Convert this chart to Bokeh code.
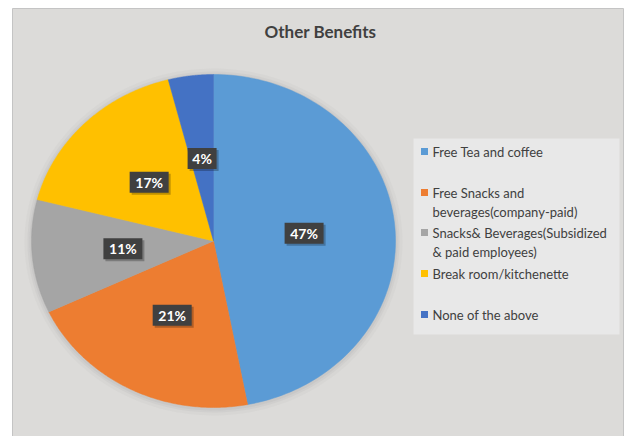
import numpy as np
from bokeh.plotting import figure
from bokeh.models import Range1d, ColumnDataSource
from bokeh.core.properties import value
from bokeh.embed import file_html
from bokeh.resources import INLINE

# ---- data ----
categories = [
    "Free Tea and coffee",
    "Free Snacks and\nbeverages(company-paid)",
    "Snacks& Beverages(Subsidized\n& paid  employees)",
    "Break room/kitchenette",
    "None of the above",
]
shares = [47, 21, 11, 17, 4]
labels = ["47%", "21%", "11%", "17%", "4%"]
colors = ["#5B9BD5", "#ED7D31", "#A5A5A5", "#FFC000", "#4472C4"]
title_text = "Other Benefits"

W, H = 629, 436
FONT = "Lato"

def Y(py):
    return H - py

p = figure(width=W, height=H, x_range=Range1d(0, W), y_range=Range1d(0, H),
           output_backend="svg", toolbar_location=None, min_border=0)
p.axis.visible = False
p.grid.visible = False
p.outline_line_color = None
p.background_fill_color = "white"
p.border_fill_color = "white"

# chart area
p.quad(left=[12], right=[623], top=[Y(8)], bottom=[-5],
       fill_color="#dcdbd9", line_color="#c4c4c4", line_width=1)

# title
p.text(x=[320], y=[Y(31)], text=[title_text], text_font=value(FONT),
       text_font_style="bold", text_font_size="17px", text_color="#404040",
       text_align="center", text_baseline="middle")

# pie (drawn as ellipse like the stretched reference)
cx, cy, rx, ry = 213, Y(240.5), 182, 166.5
total = float(sum(shares))
fr = np.array(shares) / total
starts = np.pi / 2 - 2 * np.pi * np.concatenate([[0], np.cumsum(fr)[:-1]])
ends = starts - 2 * np.pi * fr

# soft shadow
for k, a in [(7, 0.05), (4, 0.07), (2, 0.09)]:
    t = np.linspace(0, 2 * np.pi, 200)
    p.patch(cx + (rx + k) * np.cos(t), cy + (ry + k) * np.sin(t) - 1,
            fill_color="#808080", fill_alpha=a, line_color=None)

xs, ys = [], []
for s, e in zip(starts, ends):
    t = np.linspace(s, e, 120)
    xs.append(list(np.concatenate([[cx], cx + rx * np.cos(t)])))
    ys.append(list(np.concatenate([[cy], cy + ry * np.sin(t)])))
p.patches(xs=xs, ys=ys, fill_color=colors, line_color=colors, line_width=0.5)

# data labels
mids = (starts + ends) / 2
lx = cx + 0.5 * rx * np.cos(mids)
ly = cy + 0.5 * ry * np.sin(mids)
bw = [10 * len(l) + 9 for l in labels]
lab = ColumnDataSource(dict(x=lx, y=ly, w=bw, t=labels))
p.rect(x=lx + 2, y=ly - 2, width=bw, height=21, fill_color="black",
       fill_alpha=0.25, line_color=None)
p.rect(x="x", y="y", width="w", height=21, source=lab, fill_color="#404040",
       line_color=None)
p.text(x="x", y="y", text="t", source=lab, text_font=value(FONT),
       text_font_style="bold", text_font_size="14px", text_color="white",
       text_align="center", text_baseline="middle")

# legend box
p.quad(left=[413], right=[619], top=[Y(138)], bottom=[Y(334)],
       fill_color="#e8e8e8", line_color=None)
row_y = [151, 192, 232, 273, 314]
p.rect(x=[424] * len(categories), y=[Y(v) for v in row_y], width=7, height=7,
       fill_color=colors, line_color=None)
p.text(x=[432] * len(categories), y=[Y(v - 8) for v in row_y], text=categories,
       text_font=value(FONT), text_font_size="13px", text_color="#404040",
       text_align="left", text_baseline="top", text_line_height=1.2)

open("out.html", "w").write(file_html(p, INLINE))
